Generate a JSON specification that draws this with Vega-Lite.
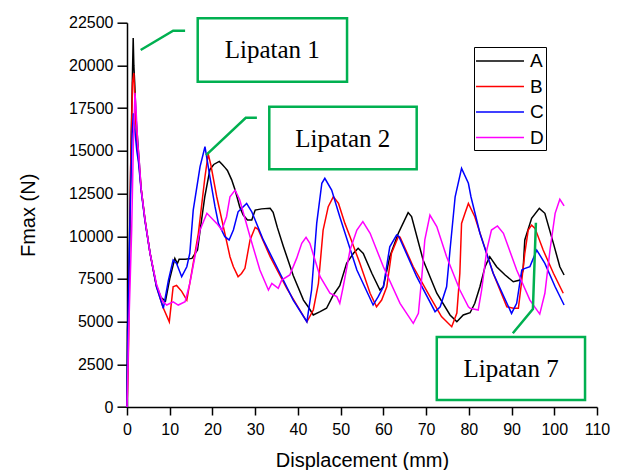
{
  "$schema": "https://vega.github.io/schema/vega-lite/v6.json",
  "width": 470,
  "height": 384.3,
  "autosize": {"type": "none"},
  "padding": {"left": 127, "top": 22.7, "right": 21, "bottom": 63},
  "background": "white",
  "config": {
    "view": {"stroke": null},
    "axis": {
      "grid": false,
      "domainColor": "black",
      "domainWidth": 1.5,
      "tickColor": "black",
      "tickWidth": 1.5,
      "labelFont": "Liberation Sans",
      "labelFontSize": 16,
      "labelColor": "black",
      "titleFont": "Liberation Sans",
      "titleFontSize": 20,
      "titleFontWeight": "normal",
      "titleColor": "black"
    },
    "legend": {
      "labelFont": "Liberation Sans",
      "labelFontSize": 19,
      "labelColor": "black"
    }
  },
  "datasets": {
    "curves": [
      {"x":0,"y":0,"s":"A"},{"x":0.1,"y":4500,"s":"A"},{"x":0.3,"y":5800,"s":"A"},{"x":0.6,"y":10000,"s":"A"},{"x":1.0,"y":16000,"s":"A"},{"x":1.45,"y":21600,"s":"A"},{"x":1.6,"y":20000,"s":"A"},{"x":1.8,"y":19000,"s":"A"},{"x":2.1,"y":17000,"s":"A"},{"x":2.7,"y":14900,"s":"A"},{"x":3.3,"y":12800,"s":"A"},{"x":4.2,"y":11000,"s":"A"},{"x":5.4,"y":9000,"s":"A"},{"x":6.9,"y":7100,"s":"A"},{"x":8.0,"y":6400,"s":"A"},{"x":9.0,"y":6200,"s":"A"},{"x":10.0,"y":7500,"s":"A"},{"x":11.2,"y":8700,"s":"A"},{"x":11.8,"y":8400,"s":"A"},{"x":12.2,"y":8650,"s":"A"},{"x":13.6,"y":8650,"s":"A"},{"x":15.2,"y":8700,"s":"A"},{"x":16.5,"y":9200,"s":"A"},{"x":17.2,"y":10500,"s":"A"},{"x":18.2,"y":12300,"s":"A"},{"x":19.4,"y":13900,"s":"A"},{"x":20.3,"y":14200,"s":"A"},{"x":21.6,"y":14380,"s":"A"},{"x":22.3,"y":14200,"s":"A"},{"x":23.0,"y":14000,"s":"A"},{"x":23.5,"y":13850,"s":"A"},{"x":24.5,"y":13300,"s":"A"},{"x":25.3,"y":12700,"s":"A"},{"x":26.4,"y":11700,"s":"A"},{"x":27.2,"y":11240,"s":"A"},{"x":28.2,"y":10950,"s":"A"},{"x":29.2,"y":10950,"s":"A"},{"x":30.0,"y":11530,"s":"A"},{"x":31.5,"y":11600,"s":"A"},{"x":33.5,"y":11630,"s":"A"},{"x":34.2,"y":11400,"s":"A"},{"x":35.2,"y":10500,"s":"A"},{"x":36.6,"y":9400,"s":"A"},{"x":38.9,"y":7700,"s":"A"},{"x":41.3,"y":6260,"s":"A"},{"x":42.4,"y":5870,"s":"A"},{"x":43.6,"y":5390,"s":"A"},{"x":45.2,"y":5580,"s":"A"},{"x":46.7,"y":5780,"s":"A"},{"x":48.3,"y":6560,"s":"A"},{"x":49.8,"y":7100,"s":"A"},{"x":51.4,"y":8410,"s":"A"},{"x":53.0,"y":9000,"s":"A"},{"x":54.1,"y":9290,"s":"A"},{"x":55.3,"y":8990,"s":"A"},{"x":57.3,"y":7830,"s":"A"},{"x":59.2,"y":6850,"s":"A"},{"x":60.0,"y":7040,"s":"A"},{"x":61.5,"y":8800,"s":"A"},{"x":63.5,"y":10170,"s":"A"},{"x":65.8,"y":11380,"s":"A"},{"x":66.6,"y":11150,"s":"A"},{"x":69.3,"y":8610,"s":"A"},{"x":72.5,"y":6660,"s":"A"},{"x":75.6,"y":5390,"s":"A"},{"x":77.2,"y":4990,"s":"A"},{"x":78.7,"y":5390,"s":"A"},{"x":80.3,"y":5520,"s":"A"},{"x":81.4,"y":6070,"s":"A"},{"x":82.6,"y":7040,"s":"A"},{"x":83.8,"y":8210,"s":"A"},{"x":84.9,"y":8800,"s":"A"},{"x":86.5,"y":8210,"s":"A"},{"x":88.5,"y":7730,"s":"A"},{"x":90.4,"y":7330,"s":"A"},{"x":92.0,"y":7430,"s":"A"},{"x":92.7,"y":8020,"s":"A"},{"x":93.1,"y":9780,"s":"A"},{"x":94.7,"y":11050,"s":"A"},{"x":96.5,"y":11630,"s":"A"},{"x":97.8,"y":11340,"s":"A"},{"x":99.8,"y":9580,"s":"A"},{"x":101.3,"y":8210,"s":"A"},{"x":102.3,"y":7730,"s":"A"},

      {"x":0,"y":0,"s":"B"},{"x":0.25,"y":2000,"s":"B"},{"x":0.45,"y":5000,"s":"B"},{"x":0.85,"y":14000,"s":"B"},{"x":1.3,"y":19000,"s":"B"},{"x":1.6,"y":19550,"s":"B"},{"x":1.9,"y":17500,"s":"B"},{"x":2.3,"y":15500,"s":"B"},{"x":2.7,"y":14500,"s":"B"},{"x":3.3,"y":12800,"s":"B"},{"x":4.2,"y":10950,"s":"B"},{"x":5.4,"y":9000,"s":"B"},{"x":6.9,"y":7040,"s":"B"},{"x":8.5,"y":5800,"s":"B"},{"x":9.9,"y":4990,"s":"B"},{"x":10.8,"y":7040,"s":"B"},{"x":11.6,"y":7120,"s":"B"},{"x":12.8,"y":6770,"s":"B"},{"x":14.0,"y":6260,"s":"B"},{"x":15.1,"y":7830,"s":"B"},{"x":16.7,"y":10170,"s":"B"},{"x":18.25,"y":13480,"s":"B"},{"x":19.0,"y":14810,"s":"B"},{"x":19.6,"y":14200,"s":"B"},{"x":21.0,"y":12310,"s":"B"},{"x":22.9,"y":10170,"s":"B"},{"x":24.1,"y":8800,"s":"B"},{"x":24.9,"y":8210,"s":"B"},{"x":26.0,"y":7630,"s":"B"},{"x":26.8,"y":7820,"s":"B"},{"x":27.6,"y":8120,"s":"B"},{"x":28.8,"y":9780,"s":"B"},{"x":30.0,"y":10520,"s":"B"},{"x":30.7,"y":10400,"s":"B"},{"x":33.5,"y":8800,"s":"B"},{"x":37.4,"y":6950,"s":"B"},{"x":42.1,"y":4990,"s":"B"},{"x":43.6,"y":5680,"s":"B"},{"x":44.8,"y":7240,"s":"B"},{"x":45.9,"y":10360,"s":"B"},{"x":47.1,"y":11730,"s":"B"},{"x":48.3,"y":12310,"s":"B"},{"x":49.5,"y":11920,"s":"B"},{"x":51.0,"y":10750,"s":"B"},{"x":52.2,"y":9970,"s":"B"},{"x":54.5,"y":8410,"s":"B"},{"x":56.9,"y":6660,"s":"B"},{"x":58.4,"y":5870,"s":"B"},{"x":59.6,"y":6260,"s":"B"},{"x":60.8,"y":7040,"s":"B"},{"x":61.9,"y":9000,"s":"B"},{"x":63.5,"y":9970,"s":"B"},{"x":63.9,"y":9950,"s":"B"},{"x":67.0,"y":8210,"s":"B"},{"x":70.9,"y":6460,"s":"B"},{"x":73.6,"y":5290,"s":"B"},{"x":76.0,"y":4700,"s":"B"},{"x":77.2,"y":5500,"s":"B"},{"x":77.9,"y":7830,"s":"B"},{"x":78.3,"y":10750,"s":"B"},{"x":79.1,"y":11340,"s":"B"},{"x":79.9,"y":11920,"s":"B"},{"x":81.4,"y":11140,"s":"B"},{"x":83.4,"y":9580,"s":"B"},{"x":85.7,"y":7830,"s":"B"},{"x":88.9,"y":5870,"s":"B"},{"x":90.4,"y":5780,"s":"B"},{"x":91.6,"y":5780,"s":"B"},{"x":92.4,"y":7430,"s":"B"},{"x":93.1,"y":9000,"s":"B"},{"x":93.9,"y":10360,"s":"B"},{"x":94.7,"y":10650,"s":"B"},{"x":95.5,"y":10460,"s":"B"},{"x":97.4,"y":9190,"s":"B"},{"x":99.8,"y":7830,"s":"B"},{"x":102.1,"y":6660,"s":"B"},

      {"x":0,"y":0,"s":"C"},{"x":0.1,"y":2500,"s":"C"},{"x":0.3,"y":6000,"s":"C"},{"x":0.7,"y":11000,"s":"C"},{"x":1.2,"y":16000,"s":"C"},{"x":1.5,"y":17200,"s":"C"},{"x":1.8,"y":16300,"s":"C"},{"x":2.3,"y":15000,"s":"C"},{"x":2.7,"y":14300,"s":"C"},{"x":3.3,"y":12700,"s":"C"},{"x":4.2,"y":10900,"s":"C"},{"x":5.4,"y":9000,"s":"C"},{"x":6.9,"y":7040,"s":"C"},{"x":8.5,"y":5780,"s":"C"},{"x":9.7,"y":7430,"s":"C"},{"x":10.8,"y":8610,"s":"C"},{"x":11.6,"y":8410,"s":"C"},{"x":12.8,"y":7630,"s":"C"},{"x":14.0,"y":8210,"s":"C"},{"x":14.7,"y":9000,"s":"C"},{"x":15.5,"y":11530,"s":"C"},{"x":17.1,"y":14070,"s":"C"},{"x":18.25,"y":15240,"s":"C"},{"x":19.4,"y":13480,"s":"C"},{"x":20.6,"y":11730,"s":"C"},{"x":21.4,"y":10750,"s":"C"},{"x":22.9,"y":9970,"s":"C"},{"x":23.9,"y":9780,"s":"C"},{"x":24.9,"y":10360,"s":"C"},{"x":26.0,"y":11430,"s":"C"},{"x":28.0,"y":11920,"s":"C"},{"x":29.2,"y":11430,"s":"C"},{"x":31.9,"y":9780,"s":"C"},{"x":35.8,"y":7830,"s":"C"},{"x":38.9,"y":6260,"s":"C"},{"x":42.1,"y":4990,"s":"C"},{"x":43.2,"y":6850,"s":"C"},{"x":44.4,"y":10750,"s":"C"},{"x":45.6,"y":13100,"s":"C"},{"x":46.3,"y":13390,"s":"C"},{"x":47.9,"y":12700,"s":"C"},{"x":49.8,"y":11140,"s":"C"},{"x":53.8,"y":8020,"s":"C"},{"x":57.6,"y":5970,"s":"C"},{"x":58.8,"y":6460,"s":"C"},{"x":60.0,"y":7040,"s":"C"},{"x":61.5,"y":9380,"s":"C"},{"x":63.1,"y":10070,"s":"C"},{"x":63.6,"y":10000,"s":"C"},{"x":67.8,"y":7630,"s":"C"},{"x":72.1,"y":5580,"s":"C"},{"x":73.3,"y":5870,"s":"C"},{"x":74.8,"y":7040,"s":"C"},{"x":75.6,"y":9190,"s":"C"},{"x":76.8,"y":12310,"s":"C"},{"x":78.3,"y":13970,"s":"C"},{"x":79.9,"y":13100,"s":"C"},{"x":80.5,"y":12310,"s":"C"},{"x":82.6,"y":10170,"s":"C"},{"x":85.7,"y":7830,"s":"C"},{"x":90.0,"y":5480,"s":"C"},{"x":91.2,"y":6070,"s":"C"},{"x":92.4,"y":8020,"s":"C"},{"x":93.0,"y":8100,"s":"C"},{"x":94.3,"y":8220,"s":"C"},{"x":95.9,"y":9190,"s":"C"},{"x":97.8,"y":8410,"s":"C"},{"x":100.2,"y":7040,"s":"C"},{"x":102.3,"y":5970,"s":"C"},

      {"x":0,"y":0,"s":"D"},{"x":0.1,"y":900,"s":"D"},{"x":0.4,"y":4500,"s":"D"},{"x":1.1,"y":10400,"s":"D"},{"x":1.5,"y":15500,"s":"D"},{"x":1.87,"y":18400,"s":"D"},{"x":2.1,"y":17500,"s":"D"},{"x":2.5,"y":15500,"s":"D"},{"x":2.9,"y":14300,"s":"D"},{"x":3.3,"y":12800,"s":"D"},{"x":4.2,"y":11000,"s":"D"},{"x":5.4,"y":9000,"s":"D"},{"x":6.9,"y":7200,"s":"D"},{"x":8.3,"y":6200,"s":"D"},{"x":9.3,"y":5970,"s":"D"},{"x":10.8,"y":6160,"s":"D"},{"x":12.0,"y":5970,"s":"D"},{"x":13.6,"y":6160,"s":"D"},{"x":14.7,"y":7240,"s":"D"},{"x":17.1,"y":10360,"s":"D"},{"x":18.7,"y":11340,"s":"D"},{"x":21.0,"y":10750,"s":"D"},{"x":22.2,"y":10360,"s":"D"},{"x":23.3,"y":11140,"s":"D"},{"x":24.1,"y":12310,"s":"D"},{"x":25.3,"y":12700,"s":"D"},{"x":26.4,"y":12120,"s":"D"},{"x":28.8,"y":9970,"s":"D"},{"x":31.1,"y":8020,"s":"D"},{"x":33.1,"y":6850,"s":"D"},{"x":33.9,"y":7240,"s":"D"},{"x":35.4,"y":6950,"s":"D"},{"x":36.2,"y":7430,"s":"D"},{"x":38.1,"y":7730,"s":"D"},{"x":39.7,"y":8700,"s":"D"},{"x":40.9,"y":9580,"s":"D"},{"x":41.9,"y":9930,"s":"D"},{"x":42.8,"y":9580,"s":"D"},{"x":45.2,"y":7630,"s":"D"},{"x":47.5,"y":6660,"s":"D"},{"x":49.1,"y":6460,"s":"D"},{"x":49.8,"y":6070,"s":"D"},{"x":50.6,"y":7040,"s":"D"},{"x":52.2,"y":9190,"s":"D"},{"x":53.8,"y":10360,"s":"D"},{"x":55.2,"y":10850,"s":"D"},{"x":56.9,"y":10170,"s":"D"},{"x":60.0,"y":8210,"s":"D"},{"x":63.9,"y":6070,"s":"D"},{"x":67.0,"y":4900,"s":"D"},{"x":68.2,"y":5490,"s":"D"},{"x":69.0,"y":7630,"s":"D"},{"x":69.7,"y":9780,"s":"D"},{"x":70.9,"y":11240,"s":"D"},{"x":72.5,"y":10560,"s":"D"},{"x":74.8,"y":8800,"s":"D"},{"x":77.9,"y":6850,"s":"D"},{"x":79.9,"y":5870,"s":"D"},{"x":80.3,"y":5780,"s":"D"},{"x":82.2,"y":5680,"s":"D"},{"x":83.0,"y":6850,"s":"D"},{"x":84.2,"y":9190,"s":"D"},{"x":85.3,"y":10360,"s":"D"},{"x":86.7,"y":10600,"s":"D"},{"x":88.1,"y":10170,"s":"D"},{"x":91.2,"y":8020,"s":"D"},{"x":94.3,"y":6260,"s":"D"},{"x":96.6,"y":5440,"s":"D"},{"x":97.8,"y":6660,"s":"D"},{"x":99.0,"y":9190,"s":"D"},{"x":100.2,"y":11340,"s":"D"},{"x":101.3,"y":12160,"s":"D"},{"x":102.3,"y":11770,"s":"D"}
    ],
    "boxes": [
      {"x1":16.55,"x2":51.5,"y1":19040,"y2":22755,"tx":34.0,"ty":20900,"label":"Lipatan 1"},
      {"x1":33.3,"x2":67.8,"y1":13915,"y2":17580,"tx":50.5,"ty":15700,"label":"Lipatan 2"},
      {"x1":72.5,"x2":107.2,"y1":410,"y2":4100,"tx":89.9,"ty":2200,"label":"Lipatan 7"}
    ],
    "connectors": [
      {"id":1,"o":1,"x":3.2,"y":20900},{"id":1,"o":2,"x":10.8,"y":22030},{"id":1,"o":3,"x":13.6,"y":22030},
      {"id":2,"o":1,"x":18.5,"y":14750},{"id":2,"o":2,"x":27.8,"y":16935},{"id":2,"o":3,"x":30.4,"y":16935},
      {"id":3,"o":1,"x":95.7,"y":10790},{"id":3,"o":2,"x":95.0,"y":5740},{"id":3,"o":3,"x":90.3,"y":4315}
    ]
  },
  "layer": [
    {
      "data": {"name": "curves"},
      "mark": {"type": "line", "strokeWidth": 1.5, "clip": false},
      "encoding": {
        "x": {"field": "x", "type": "quantitative",
              "scale": {"domain": [0, 110], "nice": false, "zero": false},
              "axis": {"values": [0,10,20,30,40,50,60,70,80,90,100,110], "title": "Displacement (mm)", "tickSize": 8, "labelPadding": 6, "titlePadding": 13, "labelFlush": false}},
        "y": {"field": "y", "type": "quantitative",
              "scale": {"domain": [0, 22500], "nice": false},
              "axis": {"values": [0,2500,5000,7500,10000,12500,15000,17500,20000,22500], "title": "Fmax (N)", "tickSize": 10, "labelPadding": 4, "titlePadding": 30, "format": "d", "labelFlush": false}},
        "color": {"field": "s", "type": "nominal",
                  "scale": {"domain": ["A","B","C","D"], "range": ["#000000","#ff0000","#0000ff","#ff00ff"]},
                  "legend": {"title": null, "orient": "none", "legendX": 347, "legendY": 24.3,
                             "strokeColor": "black", "padding": 2,
                             "symbolType": "M-2.18,0H2.18", "symbolSize": 484, "symbolStrokeWidth": 1.5,
                             "symbolOffset": 12, "labelOffset": 18, "rowPadding": 3.5}}
      }
    },
    {
      "data": {"name": "boxes"},
      "mark": {"type": "rect", "fill": "white", "stroke": "#00b050", "strokeWidth": 2.5},
      "encoding": {
        "x": {"field": "x1", "type": "quantitative"},
        "x2": {"field": "x2"},
        "y": {"field": "y1", "type": "quantitative"},
        "y2": {"field": "y2"}
      }
    },
    {
      "data": {"name": "boxes"},
      "mark": {"type": "text", "font": "Liberation Serif", "fontSize": 25, "color": "black", "align": "center", "baseline": "middle"},
      "encoding": {
        "x": {"field": "tx", "type": "quantitative"},
        "y": {"field": "ty", "type": "quantitative"},
        "text": {"field": "label"}
      }
    },
    {
      "data": {"name": "connectors"},
      "mark": {"type": "line", "stroke": "#00b050", "strokeWidth": 2.5},
      "encoding": {
        "x": {"field": "x", "type": "quantitative"},
        "y": {"field": "y", "type": "quantitative"},
        "detail": {"field": "id"},
        "order": {"field": "o"}
      }
    }
  ]
}
